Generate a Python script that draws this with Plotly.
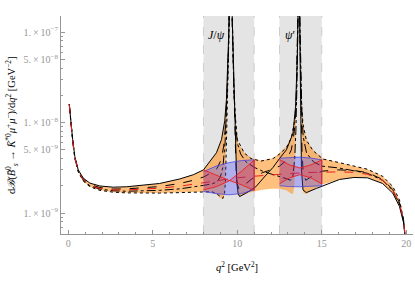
import plotly.graph_objects as go

# ---------------- data ----------------
# outer / upper envelope of the orange band
Q_UP = [0.06, 0.16, 0.26, 0.39, 0.59, 0.89, 1.28, 1.87, 2.66, 3.45, 4.5, 5.4, 6.6, 7.4, 8.0,
        8.48, 8.77, 9.07, 9.26, 9.36, 9.44, 9.50, 9.54, 9.56, 9.66, 9.68, 9.72, 9.78, 9.84, 9.93,
        10.05, 10.42, 10.81, 11.4, 12.12, 12.51, 12.91, 13.2, 13.40, 13.5, 13.56, 13.6, 13.63,
        13.67, 13.7, 13.74, 13.79, 13.89, 14.09, 14.48, 15.07, 16.06, 16.9, 17.7, 18.6, 19.2,
        19.6, 19.8, 19.92, 19.98]
UP = [1.6e-8, 1.0e-8, 6.5e-9, 4.2e-9, 3.0e-9, 2.43e-9, 2.14e-9, 1.99e-9, 1.93e-9, 1.95e-9, 2.03e-9,
      2.12e-9, 2.38e-9, 2.65e-9, 3.0e-9,
      3.88e-9, 4.64e-9, 6.5e-9, 1.05e-8, 1.8e-8, 4.0e-8, 1.0e-7, 3e-7, 1e-6, 1e-6, 3e-7, 1.0e-7,
      4.5e-8, 1.8e-8, 9.1e-9,
      6.0e-9, 4.64e-9, 4.08e-9, 3.8e-9, 4.04e-9, 4.6e-9, 5.43e-9, 7.0e-9, 1.07e-8, 1.8e-8, 4e-8,
      1.2e-7, 1e-6,
      1e-6, 1.2e-7, 4e-8, 1.8e-8, 9.8e-9, 6.47e-9, 5.0e-9, 4.0e-9, 3.6e-9, 3.3e-9, 3.05e-9, 2.55e-9,
      1.97e-9, 1.4e-9, 9.2e-10, 6e-10, 3.5e-10]

# inner / lower envelope of the orange band
Q_LO = [0.06, 0.16, 0.26, 0.39, 0.59, 0.89, 1.28, 1.87, 2.66, 3.45, 4.5, 5.4, 6.6, 7.4, 8.0,
        8.5, 8.8, 9.0, 9.15, 9.25, 9.29, 9.33, 9.38, 9.43, 9.49, 9.53, 9.56, 9.66, 9.70, 9.76,
        9.82, 9.86, 9.9, 9.93, 9.97, 10.02, 10.12, 10.4, 10.8, 11.4, 12.0, 12.5, 12.9, 13.15,
        13.3, 13.38, 13.43, 13.48, 13.53, 13.58, 13.62, 13.67, 13.7, 13.74, 13.78, 13.81, 13.84,
        13.9, 14.05, 14.4, 15.0, 16.06, 16.9, 17.7, 18.6, 19.2, 19.6, 19.84, 19.92, 19.98]
LO = [1.58e-8, 0.97e-8, 6.2e-9, 4.0e-9, 2.85e-9, 2.25e-9, 1.95e-9, 1.78e-9, 1.70e-9, 1.67e-9, 1.66e-9,
      1.66e-9, 1.68e-9, 1.70e-9, 1.72e-9,
      1.70e-9, 1.6e-9, 1.47e-9, 1.42e-9, 1.6e-9, 2.0e-9, 4e-9, 1.0e-8, 2e-8, 5e-8, 1.5e-7, 1e-6,
      1e-6, 1.5e-7, 5e-8,
      2e-8, 1.0e-8, 5e-9, 3e-9, 2e-9, 1.6e-9, 1.52e-9, 1.6e-9, 1.7e-9, 1.8e-9, 1.85e-9, 1.85e-9,
      1.78e-9, 1.65e-9,
      1.62e-9, 2.0e-9, 4e-9, 1e-8, 3e-8, 1.2e-7, 1e-6, 1e-6, 1.2e-7, 3e-8, 1e-8, 4e-9, 2.2e-9,
      1.7e-9, 1.62e-9, 1.78e-9, 2.05e-9, 2.35e-9, 2.47e-9, 2.45e-9, 2.12e-9, 1.66e-9, 1.18e-9,
      7.8e-10, 5.8e-10, 3.4e-10]

# black solid curve
Q_SOLID = [0.06, 0.16, 0.26, 0.39, 0.59, 0.89, 1.28, 1.87, 2.66, 3.45, 4.5, 5.4, 6.6, 7.4, 8.0,
           8.48, 8.77, 9.07, 9.26, 9.36, 9.44, 9.5, 9.54, 9.56, 9.64, 9.7, 9.78, 9.84, 9.88, 9.92,
           9.97, 10.05, 10.14, 10.5, 11.1, 11.6, 12.12, 12.5, 12.91, 13.3, 13.45, 13.55, 13.6,
           13.62, 13.68, 13.7, 13.73, 13.76, 13.8, 13.89, 14.09, 14.68, 16.06, 16.9, 17.7, 18.6,
           19.2, 19.6, 19.84, 19.92, 19.98]
SOLID = [1.6e-8, 1.0e-8, 6.5e-9, 4.2e-9, 3.0e-9, 2.43e-9, 2.14e-9, 1.99e-9, 1.93e-9, 1.95e-9, 2.03e-9,
         2.12e-9, 2.38e-9, 2.65e-9, 3.0e-9,
         3.88e-9, 4.64e-9, 6.5e-9, 1.05e-8, 1.8e-8, 4e-8, 1e-7, 3e-7, 1e-6, 1e-6, 1.5e-7, 4e-8,
         1.5e-8, 7e-9, 3.5e-9,
         2.2e-9, 1.65e-9, 1.52e-9, 1.65e-9, 1.95e-9, 2.5e-9, 3.2e-9, 4.0e-9, 5.0e-9, 7.6e-9, 1.5e-8,
         5e-8, 2e-7,
         1e-6, 1e-6, 1e-7, 2e-8, 6e-9, 3e-9, 1.8e-9, 1.68e-9, 1.87e-9, 2.35e-9, 2.47e-9, 2.45e-9,
         2.12e-9, 1.66e-9, 1.18e-9, 7.8e-10, 5.8e-10, 3.4e-10]

# black dotted curve
Q_DOT = [0.06, 0.16, 0.26, 0.39, 0.59, 0.89, 1.28, 1.87, 2.66, 3.45, 4.5, 5.4, 6.6, 7.4, 8.0,
         8.5, 8.8, 9.0, 9.15, 9.25, 9.3, 9.35, 9.4, 9.46, 9.52, 9.56, 9.66, 9.69, 9.73, 9.8, 9.88,
         10.0, 10.42, 10.81, 11.4, 12.12, 12.51, 12.91, 13.2, 13.4, 13.5, 13.56, 13.6, 13.63,
         13.67, 13.7, 13.74, 13.79, 13.89, 14.09, 14.48, 15.07, 16.06, 16.9, 17.7, 18.6, 19.2,
         19.6, 19.8, 19.92, 19.98]
DOT = [1.58e-8, 0.97e-8, 6.2e-9, 4.0e-9, 2.85e-9, 2.25e-9, 1.95e-9, 1.78e-9, 1.70e-9, 1.67e-9, 1.66e-9,
       1.66e-9, 1.68e-9, 1.70e-9, 1.72e-9,
       1.72e-9, 1.62e-9, 1.5e-9, 1.45e-9, 1.65e-9, 2.2e-9, 5e-9, 1.2e-8, 3e-8, 1.2e-7, 1e-6, 1e-6,
       2e-7, 8e-8, 2.5e-8, 1.2e-8,
       6.5e-9, 4.6e-9, 4.0e-9, 3.75e-9, 4.0e-9, 4.5e-9, 5.3e-9, 6.8e-9, 1.05e-8, 1.8e-8, 4e-8,
       1.2e-7, 1e-6,
       1e-6, 1.2e-7, 4e-8, 1.8e-8, 9.6e-9, 6.4e-9, 4.9e-9, 3.95e-9, 3.6e-9, 3.3e-9, 3.05e-9, 2.55e-9,
       1.97e-9, 1.4e-9, 9.2e-10, 6e-10, 3.5e-10]

# black dashed curves
Q_DASH1 = [0.06, 0.16, 0.26, 0.39, 0.59, 0.89, 1.28, 1.87, 2.66, 3.45, 4.5, 5.4, 6.6, 7.4, 8.0,
           8.5, 8.8, 9.05, 9.2, 9.32, 9.42, 9.5, 9.55, 9.65, 9.7, 9.76, 9.82, 9.87, 9.93, 10.0,
           10.1, 10.5, 11.0, 11.5, 12.0, 12.5, 12.9, 13.2, 13.38, 13.48, 13.55, 13.6, 13.63,
           13.67, 13.7, 13.74, 13.78, 13.83, 13.9, 14.05, 14.5, 15.0, 16.0, 16.9, 17.7, 18.6,
           19.2, 19.6, 19.84, 19.92, 19.98]
DASH1 = [1.6e-8, 0.99e-8, 6.4e-9, 4.12e-9, 2.95e-9, 2.36e-9, 2.07e-9, 1.91e-9, 1.84e-9, 1.85e-9, 1.9e-9,
         1.96e-9, 2.12e-9, 2.3e-9, 2.5e-9,
         2.8e-9, 3.1e-9, 3.9e-9, 5.5e-9, 1e-8, 2.5e-8, 8e-8, 1e-6, 1e-6, 1.2e-7, 4e-8, 1.4e-8,
         6e-9, 3e-9, 2.1e-9,
         1.85e-9, 2.1e-9, 2.5e-9, 2.8e-9, 3.0e-9, 3.3e-9, 3.8e-9, 5e-9, 8e-9, 1.6e-8, 5e-8, 1.5e-7,
         1e-6,
         1e-6, 1.2e-7, 3e-8, 1.2e-8, 5e-9, 2.8e-9, 2.3e-9, 2.6e-9, 2.9e-9, 3.0e-9, 2.95e-9, 2.8e-9,
         2.35e-9, 1.82e-9, 1.3e-9, 8.5e-10, 6e-10, 3.5e-10]

Q_DASH2 = [0.06, 0.16, 0.26, 0.39, 0.59, 0.89, 1.28, 1.87, 2.66, 3.45, 4.5, 5.4, 6.6, 7.4, 8.0,
           8.5, 8.8, 9.0, 9.15, 9.28, 9.38, 9.47, 9.53, 9.56, 9.65, 9.69, 9.74, 9.8, 9.88, 10.0,
           10.2, 10.5, 11.0, 11.5, 12.0, 12.5, 12.9, 13.15, 13.3, 13.4, 13.47, 13.53, 13.58, 13.62,
           13.67, 13.7, 13.75, 13.82, 13.9, 14.1, 14.5, 15.0, 16.0, 16.9, 17.7, 18.6, 19.2, 19.6,
           19.84, 19.92, 19.98]
DASH2 = [1.59e-8, 0.98e-8, 6.3e-9, 4.06e-9, 2.9e-9, 2.3e-9, 2.0e-9, 1.84e-9, 1.76e-9, 1.74e-9, 1.75e-9,
         1.78e-9, 1.85e-9, 1.93e-9, 2.02e-9,
         2.1e-9, 2.2e-9, 2.5e-9, 3.2e-9, 6e-9, 1.5e-8, 5e-8, 2e-7, 1e-6, 1e-6, 2e-7, 6e-8, 2.2e-8,
         1.1e-8, 6e-9,
         4.5e-9, 3.7e-9, 3.2e-9, 2.9e-9, 2.7e-9, 2.55e-9, 2.4e-9, 2.3e-9, 2.6e-9, 4e-9, 8e-9, 2.5e-8,
         1e-7, 1e-6,
         1e-6, 1.5e-7, 4e-8, 1.4e-8, 7e-9, 4.6e-9, 3.7e-9, 3.3e-9, 3.15e-9, 2.95e-9, 2.75e-9, 2.3e-9,
         1.78e-9, 1.26e-9, 8.2e-10, 5.9e-10, 3.4e-10]

# red dashed central (non-resonant) curve
Q_RED = [0.06, 0.16, 0.26, 0.39, 0.59, 0.89, 1.28, 1.87, 2.66, 3.45, 4.5, 5.4, 6.6, 7.4, 8.0, 9.0,
         10.0, 11.0, 12.0, 13.0, 14.0, 15.0, 16.0, 16.9, 17.7, 18.6, 19.2, 19.6, 19.84, 19.92, 19.98]
RED = [1.59e-8, 0.98e-8, 6.3e-9, 4.1e-9, 2.92e-9, 2.33e-9, 2.03e-9, 1.87e-9, 1.8e-9, 1.8e-9, 1.84e-9,
       1.88e-9, 1.98e-9, 2.08e-9, 2.18e-9, 2.32e-9, 2.45e-9, 2.55e-9, 2.65e-9, 2.72e-9, 2.8e-9,
       2.85e-9, 2.85e-9, 2.82e-9, 2.68e-9, 2.3e-9, 1.8e-9, 1.27e-9, 8.3e-10, 6e-10, 3.5e-10]

# binned predictions
Q_BIN1 = [8.0, 8.75, 9.5, 10.25, 11.0]
BIN1_TOP = [2.87e-9, 3.3e-9, 3.6e-9, 3.8e-9, 3.88e-9]
BIN1_BOT = [1.73e-9, 1.64e-9, 1.59e-9, 1.64e-9, 1.8e-9]
BIN1_RED_A = [3.0e-9, 2.6e-9, 2.3e-9, 2.05e-9, 1.78e-9]
BIN1_RED_B = [1.8e-9, 1.95e-9, 2.25e-9, 2.9e-9, 3.85e-9]

Q_BIN2 = [12.5, 13.1, 13.7, 14.35, 15.0]
BIN2_TOP = [4.04e-9, 4.12e-9, 4.15e-9, 4.05e-9, 3.88e-9]
BIN2_BOT = [2.0e-9, 1.96e-9, 1.95e-9, 1.96e-9, 2.0e-9]
BIN2_RED_A = [3.9e-9, 3.4e-9, 3.15e-9, 3.4e-9, 3.85e-9]
BIN2_RED_B = [2.1e-9, 2.45e-9, 2.65e-9, 2.45e-9, 2.1e-9]

BANDS = [(8.0, 11.0), (12.5, 15.0)]
Y_TICKS = [1e-9, 5e-9, 1e-8, 5e-8, 1e-7]
Y_TICK_TEXT = ["1.\u2009×\u200910<sup>−9</sup>", "5.\u2009×\u200910<sup>−9</sup>",
               "1.\u2009×\u200910<sup>−8</sup>", "5.\u2009×\u200910<sup>−8</sup>",
               "1.\u2009×\u200910<sup>−7</sup>"]
X_TICKS = [0, 5, 10, 15, 20]

# ---------------- figure ----------------
SERIF = "Liberation Serif, DejaVu Serif, serif"
GRAY = "rgb(150,150,150)"

fig = go.Figure()

fig.add_trace(go.Scatter(x=Q_UP + Q_LO[::-1], y=UP + LO[::-1], fill="toself",
                         fillcolor="rgba(255,150,40,0.6)", line=dict(width=0),
                         mode="lines", hoverinfo="skip"))

def line(x, y, color="black", dash="solid", width=1.0):
    fig.add_trace(go.Scatter(x=x, y=y, mode="lines",
                             line=dict(color=color, dash=dash, width=width)))

line(Q_DOT, DOT, dash="dot")
line(Q_DASH1, DASH1, dash="dash")
line(Q_DASH2, DASH2, dash="dashdot")
line(Q_SOLID, SOLID)
line(Q_RED, RED, color="rgb(230,30,30)", dash="dash")

for q, top, bot, ra, rb in [(Q_BIN1, BIN1_TOP, BIN1_BOT, BIN1_RED_A, BIN1_RED_B),
                            (Q_BIN2, BIN2_TOP, BIN2_BOT, BIN2_RED_A, BIN2_RED_B)]:
    fig.add_trace(go.Scatter(x=q + q[::-1], y=top + bot[::-1], fill="toself",
                             fillcolor="rgba(80,80,255,0.35)",
                             line=dict(color="rgba(60,60,230,0.8)", width=0.9), mode="lines"))
    fig.add_trace(go.Scatter(x=q + q[::-1], y=ra + rb[::-1], fill="toself",
                             fillcolor="rgba(255,0,0,0.22)",
                             line=dict(color="rgb(235,30,30)", width=0.9), mode="lines"))

shapes = []
for a, b in BANDS:
    shapes.append(dict(type="rect", xref="x", yref="paper", x0=a, x1=b, y0=0, y1=1,
                       fillcolor="rgb(228,228,228)", line=dict(width=0), layer="below"))
    for xv in (a, b):
        shapes.append(dict(type="line", xref="x", yref="paper", x0=xv, x1=xv, y0=0, y1=1,
                           line=dict(color="rgb(205,205,205)", width=1, dash="dash"),
                           layer="below"))

fig.update_layout(
    width=415, height=289,
    margin=dict(l=61, r=2, t=16, b=55),
    paper_bgcolor="white", plot_bgcolor="white",
    showlegend=False,
    shapes=shapes,
    font=dict(family=SERIF, size=10, color=GRAY),
    xaxis=dict(range=[-0.43, 20.4], showgrid=False, zeroline=False, automargin=False,
               showline=True, linecolor=GRAY, linewidth=1,
               ticks="inside", ticklen=4, tickcolor=GRAY,
               tickvals=X_TICKS, ticktext=[str(v) for v in X_TICKS],
               tickfont=dict(family=SERIF, size=10, color=GRAY),
               minor=dict(ticks="inside", ticklen=2, dtick=1, tickcolor=GRAY)),
    yaxis=dict(type="log", range=[-9.232, -6.822], showgrid=False, zeroline=False,
               automargin=False,
               showline=True, linecolor=GRAY, linewidth=1,
               ticks="inside", ticklen=4, tickcolor=GRAY,
               tickvals=Y_TICKS, ticktext=Y_TICK_TEXT,
               tickfont=dict(family=SERIF, size=10, color=GRAY),
               minor=dict(ticks="inside", ticklen=2, tickcolor=GRAY,
                          tickvals=[m * 10 ** e for e in (-10, -9, -8, -7)
                                    for m in (2, 3, 4, 6, 7, 8, 9)])),
    annotations=[
        dict(text="d<i>ℬ</i>(<i>B̄</i><sup>0</sup><sub><i>s</i></sub> → <i>K̄</i><sup>*0</sup>"
                  "<i>μ</i><sup>+</sup><i>μ</i><sup>−</sup>)/d<i>q</i><sup>2</sup> [GeV<sup>−2</sup>]",
             xref="paper", yref="paper", x=-0.139, y=0.5, textangle=-90, showarrow=False,
             font=dict(family=SERIF, size=10.5, color="black"), xanchor="center", yanchor="middle"),
        dict(text="<i>q</i><sup>2</sup> [GeV<sup>2</sup>]", xref="paper", yref="paper",
             x=0.5, y=-0.15, showarrow=False, yanchor="middle",
             font=dict(family=SERIF, size=10.5, color="black")),
        dict(text="<i>J</i>/<i>ψ</i>", xref="x", yref="y", x=8.8, y=-7.035, showarrow=False,
             font=dict(family=SERIF, size=12, color="black")),
        dict(text="<i>ψ</i>′", xref="x", yref="y", x=13.15, y=-7.035, showarrow=False,
             font=dict(family=SERIF, size=12, color="black")),
    ],
)

# the default page keeps an 8px body margin; drop it so the 415x289 figure fills the window
fig.write_html("out.html", config={"displayModeBar": False},
               post_script="document.body.style.margin='0';document.body.style.overflow='hidden';")
